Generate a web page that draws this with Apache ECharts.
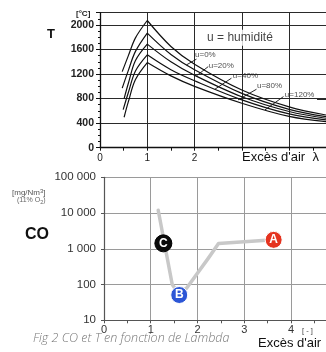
<!DOCTYPE html>
<html><head><meta charset="utf-8">
<script src="https://cdn.jsdelivr.net/npm/echarts@6/dist/echarts.min.js"></script>
<style>html,body{margin:0;padding:0;background:#fff}#c{width:326px;height:352px}</style>
</head><body><div id="c"></div>
<script>
// ---------- Top chart: T vs excess air for several humidities ----------
const humidityLabels = ['u=0%', 'u=20%', 'u=40%', 'u=80%', 'u=120%'];
const rightLambda = [1, 1.5, 2, 3, 4, 4.78];
const tLeft_u0   = [[0.47, 1240], [0.6, 1500], [0.75, 1790], [1, 2073]];
const tLeft_u20  = [[0.47, 970],  [0.6, 1260], [0.75, 1570], [1, 1868]];
const tLeft_u40  = [[0.51, 800],  [0.6, 1050], [0.75, 1420], [1, 1688]];
const tLeft_u80  = [[0.49, 620],  [0.6, 900],  [0.75, 1250], [1, 1513]];
const tLeft_u120 = [[0.51, 496],  [0.6, 750],  [0.75, 1110], [1, 1388]];
const tRight_u0   = [2073, 1650, 1360, 940, 665, 533];
const tRight_u20  = [1868, 1520, 1270, 885, 625, 506];
const tRight_u40  = [1688, 1400, 1180, 830, 590, 480];
const tRight_u80  = [1513, 1270, 1090, 780, 550, 452];
const tRight_u120 = [1388, 1170, 1000, 725, 510, 424];
const tTicks = [0, 400, 800, 1200, 1600, 2000];
// annotation anchors (data coords): label start, leader line
const labelPos = [[2.01, 1513], [2.30, 1334], [2.81, 1171], [3.32, 1007], [3.91, 860]];
const leaderFrom = [[1.83, 1350], [2.04, 1171], [2.43, 953], [2.92, 779], [3.49, 616]];
const leaderTo   = [[2.04, 1443], [2.29, 1322], [2.78, 1133], [3.31, 953], [3.88, 833]];

// ---------- Bottom chart: CO vs excess air ----------
const coLambda = [1.16, 1.46, 1.6, 1.77, 2.23, 2.45, 3.55];
const coValues = [12000, 100, 55, 80, 540, 1400, 1770];
const pointNames = ['A', 'B', 'C'];
const pointLambda = [3.63, 1.61, 1.27];
const pointCO = [1780, 51, 1420];
const pointColors = ['#e5331f', '#2c56d6', '#0a0a0a'];
const coTicks = [10, 100, 1000, 10000, 100000];

const FONT = '"Liberation Sans", Arial, sans-serif';
const tLeft = [tLeft_u0, tLeft_u20, tLeft_u40, tLeft_u80, tLeft_u120];
const tRight = [tRight_u0, tRight_u20, tRight_u40, tRight_u80, tRight_u120];

const series = [];
for (let i = 0; i < 5; i++) {
  const common = {type: 'line', xAxisIndex: 0, yAxisIndex: 0, showSymbol: false, smooth: 0.35,
    lineStyle: {color: '#111', width: 1.2}, silent: true, z: 3};
  series.push(Object.assign({name: humidityLabels[i] + ' L', data: tLeft[i]}, common));
  series.push(Object.assign({name: humidityLabels[i], data: rightLambda.map((l, k) => [l, tRight[i][k]])}, common));
}
series.push({
  type: 'scatter', xAxisIndex: 0, yAxisIndex: 0, symbolSize: 0, silent: true, z: 5,
  data: labelPos.map((p, i) => [p[0], p[1], humidityLabels[i]]),
  label: {show: true, position: 'right', distance: 0, formatter: p => p.data[2],
    fontFamily: FONT, fontSize: 8, color: '#222'},
  markLine: {silent: true, symbol: 'none', label: {show: false},
    lineStyle: {color: '#111', width: 0.9, type: 'solid'},
    data: leaderFrom.map((f, i) => [{coord: f}, {coord: leaderTo[i]}])
      .concat([[{coord: [4.59, 795]}, {coord: [4.78, 795]}]])}
});
series.push({
  type: 'scatter', xAxisIndex: 0, yAxisIndex: 0, symbolSize: 0, silent: true, z: 6,
  data: [[2.96, 1791]],
  label: {show: true, position: 'inside', formatter: 'u = humidité', fontFamily: FONT,
    fontSize: 12, color: '#111', backgroundColor: '#fff', padding: [2, 3]}
});
series.push({
  type: 'line', xAxisIndex: 1, yAxisIndex: 1, showSymbol: false, silent: true,
  data: coLambda.map((l, k) => [l, coValues[k]]),
  lineStyle: {color: '#c8c8c8', width: 3.5, join: 'round', cap: 'round'}, z: 3
});
series.push({
  type: 'scatter', xAxisIndex: 1, yAxisIndex: 1, symbolSize: 17, silent: true, z: 6,
  data: pointNames.map((n, i) => ({value: [pointLambda[i], pointCO[i]], name: n,
    itemStyle: {color: pointColors[i], opacity: 1,
      borderColor: i === 2 ? '#000' : '#fff', borderWidth: 1}})),
  label: {show: true, position: 'inside', formatter: p => p.name, color: '#fff',
    fontFamily: FONT, fontWeight: 'bold', fontSize: 12}
});

const fmtSpace = v => String(v).replace(/\B(?=(\d{3})+(?!\d))/g, ' ');

const option = {
  animation: false,
  backgroundColor: '#fff',
  grid: [
    {left: 100, top: 12.7, width: 226, height: 135},
    {left: 104, top: 177.3, width: 222, height: 143}
  ],
  xAxis: [
    {gridIndex: 0, type: 'value', min: 0, max: 4.78, interval: 1,
      axisLine: {lineStyle: {color: '#111', width: 1.3}},
      axisTick: {show: true, length: 3, lineStyle: {color: '#111'}},
      minorTick: {show: true, splitNumber: 2, length: 3, lineStyle: {color: '#111'}},
      splitLine: {show: true, lineStyle: {color: '#2a2a2a', width: 1}},
      axisLabel: {fontFamily: FONT, fontSize: 10, color: '#222', margin: 6,
        showMaxLabel: false, formatter: v => (Number.isInteger(v) && v <= 2) ? String(v) : ''}},
    {gridIndex: 1, type: 'value', min: 0, max: 4.75, interval: 1,
      axisLine: {lineStyle: {color: '#555', width: 1.2}},
      axisTick: {show: true, length: 3, lineStyle: {color: '#555'}},
      minorTick: {show: true, splitNumber: 2, length: 3, lineStyle: {color: '#555'}},
      splitLine: {show: true, lineStyle: {color: '#9a9a9a', width: 1}},
      axisLabel: {fontFamily: FONT, fontSize: 11, color: '#333', margin: 4,
        showMaxLabel: false, formatter: v => Number.isInteger(v) ? String(v) : ''}}
  ],
  yAxis: [
    {gridIndex: 0, type: 'value', min: 0, max: 2200, interval: 400,
      axisLine: {show: true, lineStyle: {color: '#111', width: 1.3}},
      axisTick: {show: true, length: 4, lineStyle: {color: '#111'}},
      minorTick: {show: true, splitNumber: 4, length: 2, lineStyle: {color: '#111'}},
      splitLine: {show: true, lineStyle: {color: '#2a2a2a', width: 1}},
      axisLabel: {fontFamily: FONT, fontSize: 10.5, fontWeight: 'bold', color: '#222', margin: 6,
        showMaxLabel: false, formatter: v => tTicks.indexOf(v) >= 0 ? String(v) : ''}},
    {gridIndex: 1, type: 'log', logBase: 10, min: 10, max: 100000,
      axisLine: {show: true, lineStyle: {color: '#555', width: 1.2}},
      axisTick: {show: true, length: 3, lineStyle: {color: '#555'}},
      minorTick: {show: false},
      splitLine: {show: true, lineStyle: {color: '#9a9a9a', width: 1}},
      axisLabel: {fontFamily: FONT, fontSize: 11.5, color: '#333', margin: 8,
        formatter: v => coTicks.indexOf(Math.round(v)) >= 0 ? fmtSpace(Math.round(v)) : ''}}
  ],
  graphic: [
    {type: 'text', left: 47, top: 28, style: {text: 'T', font: 'bold 13px ' + FONT, fill: '#111'}},
    {type: 'text', left: 76, top: 10, style: {text: '[°C]', font: 'bold 8px ' + FONT, fill: '#222'}},
    {type: 'text', left: 242, top: 151, style: {text: "Excès d'air  λ", font: '13px ' + FONT, fill: '#111'}},
    {type: 'text', left: 25, top: 227, style: {text: 'CO', font: 'bold 16px ' + FONT, fill: '#111'}},
    {type: 'text', left: 12, top: 188, style: {rich: {a: {fontSize: 8, fontFamily: FONT, fill: '#555'},
      s: {fontSize: 6, fontFamily: FONT, fill: '#555', verticalAlign: 'top', padding: [0, 0, 3, 0]}},
      text: '{a|[mg/Nm}{s|3}{a|]}'}},
    {type: 'text', left: 17, top: 197, style: {rich: {a: {fontSize: 7, fontFamily: FONT, fill: '#666'},
      s: {fontSize: 5.5, fontFamily: FONT, fill: '#666', padding: [3, 0, 0, 0]}},
      text: '{a|(11% O}{s|2}{a|)}'}},
    {type: 'text', left: 302, top: 327, style: {text: '[ - ]', font: '7.5px ' + FONT, fill: '#444'}},
    {type: 'text', left: 258, top: 337, style: {text: "Excès d'air", font: '13px ' + FONT, fill: '#111'}},
    {type: 'text', left: 33, top: 332, style: {text: 'Fig 2 CO et T en fonction de Lambda',
      font: 'italic 300 12.5px "Open Sans", sans-serif', fill: '#777'}}
  ],
  series: series
};
const chart = echarts.init(document.getElementById('c'), null, {renderer: 'canvas'});
chart.setOption(option);
</script></body></html>
